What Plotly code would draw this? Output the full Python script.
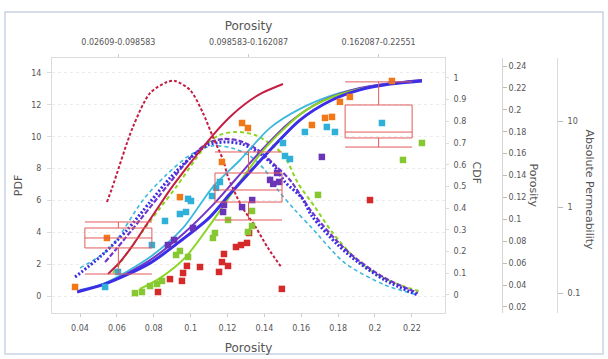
import plotly.graph_objects as go

# ---------------- data ----------------
range_labels = ["0.02609-0.098583", "0.098583-0.162087", "0.162087-0.22551"]
box_upper = [0.0976, 0.1615, 0.2255]
box_q3 = [0.0921, 0.1423, 0.2044]
box_median = [0.0830, 0.1268, 0.1797]
box_q1 = [0.0739, 0.1158, 0.1743]
box_lower = [0.0501, 0.0994, 0.1660]

# probability density curves (porosity, PDF)
red_pdf_x = [0.0546, 0.0574, 0.0687, 0.0780, 0.0872, 0.0915, 0.0997, 0.1067, 0.1121, 0.1176, 0.1203, 0.1279, 0.1349, 0.1420, 0.1495]
red_pdf_y = [5.90, 6.78, 10.61, 12.74, 13.43, 13.50, 12.93, 11.49, 9.98, 8.54, 7.47, 5.59, 4.40, 3.01, 1.76]
blue_pdf_x = [0.0373, 0.0508, 0.0655, 0.0780, 0.0888, 0.0997, 0.1094, 0.1192, 0.1279, 0.1365, 0.1457, 0.1512, 0.1604, 0.1658, 0.1799, 0.1908, 0.2054, 0.2233]
blue_pdf_y = [1.19, 2.45, 4.14, 5.90, 7.41, 8.66, 9.48, 9.67, 9.54, 9.04, 8.10, 7.16, 6.15, 5.02, 3.20, 2.13, 1.00, 0.06]
purple_pdf_x = [0.0536, 0.0601, 0.0725, 0.0877, 0.0997, 0.1094, 0.1181, 0.1268, 0.1365, 0.1457, 0.1539, 0.1658, 0.1799, 0.1908, 0.2054, 0.2233]
purple_pdf_y = [2.13, 3.01, 4.77, 6.97, 8.66, 9.60, 9.86, 9.73, 9.17, 8.22, 7.28, 5.27, 3.39, 2.26, 1.13, 0.19]
cyan_pdf_x = [0.0400, 0.0563, 0.0742, 0.0861, 0.0997, 0.1116, 0.1224, 0.1322, 0.1403, 0.1474, 0.1566, 0.1658, 0.1837, 0.2054, 0.2233]
cyan_pdf_y = [1.76, 3.01, 6.03, 7.53, 8.85, 9.42, 9.29, 8.79, 7.91, 6.65, 5.40, 4.27, 2.07, 0.69, 0.06]
green_pdf_x = [0.0579, 0.0725, 0.0834, 0.0926, 0.1024, 0.1094, 0.1159, 0.1241, 0.1349, 0.1457, 0.1512, 0.1582, 0.1674, 0.1767, 0.1891, 0.2016, 0.2135, 0.2255]
green_pdf_y = [1.44, 3.83, 5.52, 6.91, 8.54, 9.60, 10.11, 10.30, 10.11, 9.35, 8.73, 7.09, 5.59, 4.02, 2.39, 1.32, 0.69, 0.25]

# cumulative curves (porosity, CDF)
red_cdf_x = [0.0552, 0.0617, 0.0687, 0.0752, 0.0818, 0.0888, 0.0969, 0.1051, 0.1132, 0.1213, 0.1295, 0.1376, 0.1501]
red_cdf_y = [0.097, 0.152, 0.230, 0.313, 0.396, 0.484, 0.576, 0.664, 0.747, 0.820, 0.880, 0.926, 0.972]
cyan_cdf_x = [0.0400, 0.0536, 0.0780, 0.0959, 0.1121, 0.1268, 0.1431, 0.1604, 0.1810, 0.2027, 0.2255]
cyan_cdf_y = [0.023, 0.055, 0.175, 0.309, 0.498, 0.622, 0.770, 0.862, 0.931, 0.968, 0.991]
purple_cdf_x = [0.0389, 0.0536, 0.0780, 0.0959, 0.1121, 0.1241, 0.1376, 0.1539, 0.1701, 0.1918, 0.2255]
purple_cdf_y = [0.018, 0.051, 0.161, 0.281, 0.415, 0.530, 0.659, 0.797, 0.889, 0.954, 0.991]
blue_cdf_x = [0.0384, 0.0536, 0.0780, 0.0959, 0.1105, 0.1213, 0.1322, 0.1457, 0.1593, 0.1756, 0.1918, 0.2081, 0.2255]
blue_cdf_y = [0.014, 0.051, 0.147, 0.258, 0.359, 0.465, 0.567, 0.691, 0.806, 0.894, 0.945, 0.972, 0.986]
green_cdf_x = [0.0725, 0.0834, 0.0969, 0.1116, 0.1251, 0.1387, 0.1512, 0.1620, 0.1783, 0.1973, 0.2255]
green_cdf_y = [0.028, 0.078, 0.171, 0.336, 0.502, 0.659, 0.770, 0.848, 0.917, 0.959, 0.986]

# core samples: porosity vs absolute permeability (mD)
orange_phi = [0.0373, 0.0546, 0.0942, 0.1170, 0.1279, 0.1311, 0.1658, 0.1729, 0.1767, 0.1810, 0.1864, 0.2092]
orange_k = [0.119, 0.442, 1.32, 3.38, 9.6, 8.4, 9.1, 11.0, 11.3, 16.9, 19.3, 29.6]
cyan_phi = [0.0536, 0.0606, 0.0790, 0.0861, 0.0942, 0.0975, 0.0986, 0.1002, 0.1116, 0.1138, 0.1159, 0.1501, 0.1512, 0.1539, 0.1620, 0.1739, 0.1783, 0.2038]
cyan_k = [0.119, 0.178, 0.366, 0.697, 0.84, 0.886, 1.26, 1.19, 1.36, 1.69, 1.98, 5.62, 3.97, 3.66, 7.55, 8.63, 7.55, 9.6]
purple_phi = [0.0877, 0.0910, 0.1013, 0.1176, 0.1181, 0.1279, 0.1334, 0.1431, 0.1448, 0.1469, 0.1480, 0.1712]
purple_k = [0.366, 0.419, 0.578, 0.886, 1.07, 1.01, 1.22, 2.09, 1.88, 2.52, 1.98, 3.87]
green_phi = [0.0698, 0.0736, 0.0780, 0.0818, 0.0845, 0.0921, 0.0942, 0.0986, 0.1121, 0.1132, 0.1203, 0.1311, 0.1333, 0.1333, 0.1691, 0.2152, 0.2255]
green_k = [0.101, 0.104, 0.122, 0.129, 0.140, 0.280, 0.312, 0.266, 0.442, 0.505, 0.716, 0.519, 0.609, 0.911, 1.40, 3.57, 5.62]
red_phi = [0.0823, 0.0888, 0.0953, 0.0959, 0.0980, 0.1051, 0.1154, 0.1170, 0.1181, 0.1203, 0.1246, 0.1273, 0.1306, 0.1317, 0.1495, 0.1973]
red_k = [0.104, 0.147, 0.140, 0.173, 0.209, 0.203, 0.178, 0.232, 0.288, 0.209, 0.347, 0.366, 0.387, 0.505, 0.113, 1.22]

x_ticks = [0.04, 0.06, 0.08, 0.10, 0.12, 0.14, 0.16, 0.18, 0.20, 0.22]
x_ticktext = ["0.04", "0.06", "0.08", "0.1", "0.12", "0.14", "0.16", "0.18", "0.2", "0.22"]
pdf_ticks = [0, 2, 4, 6, 8, 10, 12, 14]
cdf_ticks = [0, 0.1, 0.2, 0.3, 0.4, 0.5, 0.6, 0.7, 0.8, 0.9, 1]
cdf_ticktext = ["0", "0.1", "0.2", "0.3", "0.4", "0.5", "0.6", "0.7", "0.8", "0.9", "1"]
phi_ticks = [0.02, 0.04, 0.06, 0.08, 0.10, 0.12, 0.14, 0.16, 0.18, 0.20, 0.22, 0.24]
phi_ticktext = ["0.02", "0.04", "0.06", "0.08", "0.1", "0.12", "0.14", "0.16", "0.18", "0.2", "0.22", "0.24"]
perm_ticks = [0.1, 1, 10]
perm_ticktext = ["0.1", "1", "10"]

# ---------------- styling ----------------
RED = "#c41e44"
CYAN = "#3cb8dc"
PURPLE = "#7236c8"
BLUE = "#3b2ee6"
GREEN = "#8ad620"
ORANGE = "#f07818"
BOX_RED = "#e25a5a"
TXT = "#555555"
FONT = "DejaVu Sans"
W, H = 608, 359

def px(v):
    return v / W

def py(v):
    return 1 - v / H

fig = go.Figure()

fig.add_trace(go.Box(
    x=range_labels, q1=box_q1, median=box_median, q3=box_q3,
    lowerfence=box_lower, upperfence=box_upper,
    xaxis="x2", yaxis="y3", line=dict(color=BOX_RED, width=1),
    fillcolor="rgba(0,0,0,0)", whiskerwidth=1, boxpoints=False,
    showlegend=False, hoverinfo="skip"))

def curve(x, y, color, width, dash, yaxis):
    fig.add_trace(go.Scatter(
        x=x, y=y, mode="lines", yaxis=yaxis,
        line=dict(color=color, width=width, dash=dash, shape="spline", smoothing=0.8),
        showlegend=False, hoverinfo="skip"))

# cumulative curves
curve(cyan_cdf_x, cyan_cdf_y, CYAN, 1.8, "solid", "y2")
curve(purple_cdf_x, purple_cdf_y, PURPLE, 2, "solid", "y2")
curve(green_cdf_x, green_cdf_y, GREEN, 2, "solid", "y2")
curve(blue_cdf_x, blue_cdf_y, BLUE, 3, "solid", "y2")
curve(red_cdf_x, red_cdf_y, RED, 2, "solid", "y2")

# density curves
curve(cyan_pdf_x, cyan_pdf_y, CYAN, 1.6, "4px,3px", "y")
curve(green_pdf_x, green_pdf_y, GREEN, 2, "4px,3px", "y")
curve(purple_pdf_x, purple_pdf_y, PURPLE, 2.2, "5px,2px", "y")
curve(blue_pdf_x, blue_pdf_y, BLUE, 3, "2px,2px", "y")
curve(red_pdf_x, red_pdf_y, RED, 2, "3px,2px", "y")

def points(x, y, color):
    fig.add_trace(go.Scatter(
        x=x, y=y, mode="markers", yaxis="y4",
        marker=dict(symbol="square", size=6.5, color=color, line=dict(width=0)),
        showlegend=False, hoverinfo="skip"))

points(red_phi, red_k, "#d62a2a")
points(green_phi, green_k, "#86c832")
points(purple_phi, purple_k, "#6a34b8")
points(cyan_phi, cyan_k, "#2eb0d8")
points(orange_phi, orange_k, ORANGE)

tick_font = dict(family=FONT, size=8, color=TXT)
dom_x = [px(52), px(445)]
dom_y = [py(313), py(58)]

fig.update_layout(
    width=W, height=H, margin=dict(l=0, r=0, t=0, b=0),
    paper_bgcolor="white", plot_bgcolor="white",
    font=dict(family=FONT, color=TXT),
    boxgap=0.485, boxgroupgap=0,
    xaxis=dict(domain=dom_x, range=[0.0248, 0.238], tickvals=x_ticks, ticktext=x_ticktext,
               tickfont=tick_font, showgrid=False, zeroline=False, showline=True,
               linecolor="#dcdcdc", ticks="outside", ticklen=3, tickcolor="#cccccc",
               ticklabelstandoff=4,
               title=dict(text="Porosity", font=dict(size=12, color=TXT), standoff=12),
               anchor="y"),
    xaxis2=dict(overlaying="x", side="top", type="category", range=[-0.51, 2.51],
                tickfont=tick_font, showgrid=False, zeroline=False, showline=True,
                linecolor="#dcdcdc", ticks="outside", ticklen=3, tickcolor="#cccccc",
                ticklabelstandoff=6,
                title=dict(text="Porosity", font=dict(size=12, color=TXT), standoff=4),
                anchor="y"),
    yaxis=dict(domain=dom_y, range=[-1.067, 14.94], tickvals=pdf_ticks, tickfont=tick_font,
               showgrid=True, gridcolor="#ececec", griddash="dot", zeroline=False,
               showline=True, linecolor="#dcdcdc", ticks="outside", ticklen=4,
               tickcolor="#dddddd", ticklabelstandoff=4,
               title=dict(text="PDF", font=dict(size=11, color=TXT), standoff=6)),
    yaxis2=dict(overlaying="y", side="right", anchor="x", range=[-0.083, 1.092],
                tickvals=cdf_ticks, ticktext=cdf_ticktext, tickfont=tick_font,
                showgrid=False, zeroline=False, showline=True, linecolor="#dcdcdc",
                ticks="outside", ticklen=3, tickcolor="#dddddd", ticklabelstandoff=3),
    yaxis3=dict(overlaying="y", side="right", anchor="free", position=px(502),
                range=[0.0145, 0.2473], tickvals=phi_ticks, ticktext=phi_ticktext,
                tickfont=tick_font, showgrid=False, zeroline=False, showline=True,
                linecolor="#d4d4d4", ticks="outside", ticklen=4, tickcolor="#bbbbbb"),
    yaxis4=dict(overlaying="y", side="right", anchor="free", position=px(557),
                type="log", range=[-1.227, 1.738], tickvals=perm_ticks, ticktext=perm_ticktext,
                tickfont=tick_font, showgrid=False, zeroline=False, showline=True,
                linecolor="#dcdcdc", ticks="outside", ticklen=5, tickcolor="#bbbbbb",
                ticklabelstandoff=3),
    shapes=[dict(type="rect", xref="paper", yref="paper", x0=px(5), x1=px(603),
                 y0=py(354), y1=py(12), line=dict(color="#c8d4e4", width=1.5),
                 fillcolor="rgba(0,0,0,0)", layer="below")],
    annotations=[
        dict(text="CDF", x=px(485), y=py(172), xref="paper", yref="paper", showarrow=False,
             textangle=90, font=dict(size=11, color=TXT)),
        dict(text="Porosity", x=px(542), y=py(185), xref="paper", yref="paper", showarrow=False,
             textangle=90, font=dict(size=11, color=TXT)),
        dict(text="Absolute Permeability", x=px(598), y=py(190), xref="paper", yref="paper",
             showarrow=False, textangle=90, font=dict(size=11, color=TXT)),
    ],
)

fig.write_html("out.html")
